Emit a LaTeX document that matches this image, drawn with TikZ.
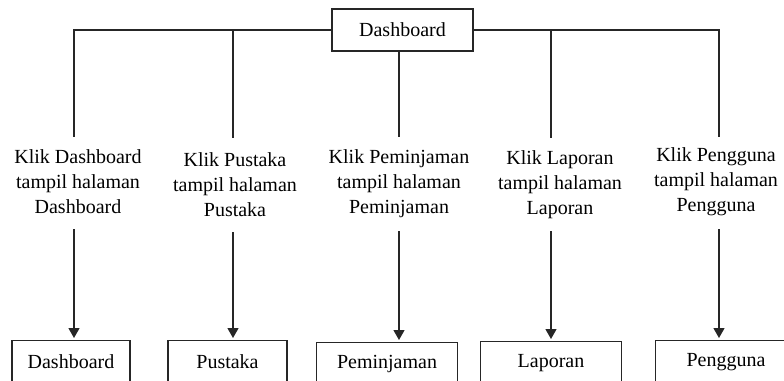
\documentclass[tikz,border=0pt]{standalone}
\usepackage{fontspec}
\setmainfont{Liberation Serif}
\usetikzlibrary{positioning,arrows.meta}

\begin{document}
\begin{tikzpicture}[
        x = 0.5pt,
        y = -0.5pt,
        menu/.style={
            % The shape
            rectangle,
            minimum width = 70.5pt,
            minimum height = 21pt,
            % The border
            line width = 0.65pt,
            draw = black!85,
            % The color
            text = black,
            % Font
            font = \fontsize{10pt}{12.5pt}\selectfont
        },
        page/.style={
            % The shape
            menu,
            anchor = north
        },
        action/.style={
            % The shape
            inner sep = 0pt,
            align = center,
            % The color
            text = black,
            % Font
            font = \fontsize{10pt}{12.5pt}\selectfont
        },
        link/.style={
            line width = 0.65pt,
            draw = black!85
        },
        arrow/.style={
            link,
            -{Triangle[width=5.5pt,length=5pt]},
            shorten >= 1pt
        },
    ]
        \path[use as bounding box, clip] (0,0) rectangle (784,381);

        \node (dashboard) [menu] at (402.5,30) {Dashboard};

        \coordinate (dropDashboard) at (74,137);
        \coordinate (dropPustaka) at (233,138);
        \coordinate (dropPeminjaman) at (399,137);
        \coordinate (dropLaporan) at (551,138);
        \coordinate (dropPengguna) at (719,137);
        \draw[link] (dashboard.west) -| (dropDashboard);
        \draw[link] (dashboard.west) -| (dropPustaka);
        \draw[link] (dashboard.south -| dropPeminjaman) -- (dropPeminjaman);
        \draw[link] (dashboard.east) -| (dropLaporan);
        \draw[link] (dashboard.east) -| (dropPengguna);

        \node (klikDashboard) [action] at (78,182) {Klik Dashboard \\ tampil halaman \\ Dashboard};
        \node (klikPustaka) [action] at (235,185) {Klik Pustaka \\ tampil halaman \\ Pustaka};
        \node (klikPeminjaman) [action] at (399,184) {Klik Peminjaman \\ tampil halaman \\ Peminjaman};
        \node (klikLaporan) [action] at (560,185) {Klik Laporan \\ tampil halaman \\ Laporan};
        \node (klikPengguna) [action] at (716,182) {Klik Pengguna \\ tampil halaman \\ Pengguna};

        \node (pageDashboard) [page, minimum width = 59pt] at (71,340) {Dashboard};
        \node (pagePustaka) [page, minimum width = 59.5pt] at (227.5,340) {Pustaka};
        \node (pagePeminjaman) [page] at (387,342) {Peminjaman};
        \node (pageLaporan) [page] at (551,341) {Laporan};
        \node (pagePengguna) [page] at (726,340) {Pengguna};

        \coordinate (fromDashboard) at (74,229);
        \coordinate (fromPustaka) at (233,232);
        \coordinate (fromPeminjaman) at (399,231);
        \coordinate (fromLaporan) at (551,231);
        \coordinate (fromPengguna) at (719,229);
        \draw[arrow] (fromDashboard) -- (fromDashboard |- pageDashboard.north);
        \draw[arrow] (fromPustaka) -- (fromPustaka |- pagePustaka.north);
        \draw[arrow] (fromPeminjaman) -- (fromPeminjaman |- pagePeminjaman.north);
        \draw[arrow] (fromLaporan) -- (fromLaporan |- pageLaporan.north);
        \draw[arrow] (fromPengguna) -- (fromPengguna |- pagePengguna.north);

    \end{tikzpicture}
\end{document}
